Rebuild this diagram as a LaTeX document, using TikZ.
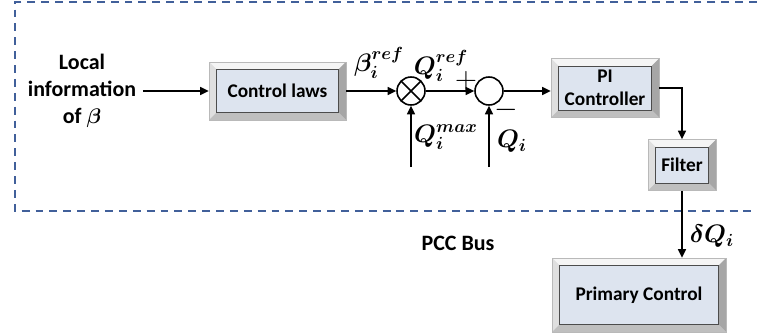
\documentclass[tikz,border=0pt]{standalone}
\usepackage{amsmath}
\usepackage{bm}
\usepackage{fontspec}
\setmainfont{Carlito}
\usetikzlibrary{arrows.meta,calc}

\definecolor{busblue}{HTML}{41609A}
\definecolor{boxblue}{HTML}{DDE4EF}

\begin{document}
\begin{tikzpicture}[x=0.02cm,y=-0.02cm,>={Triangle[length=1.7mm,width=1.6mm]},
    line width=0.9pt,
    bevelbox/.style={draw=gray!55,line width=0.4pt,fill=gray!15,
      font=\fontsize{11}{13}\selectfont\bfseries,align=center,inner sep=0pt,
      path picture={
        \coordinate (sw) at (path picture bounding box.south west);
        \coordinate (ne) at (path picture bounding box.north east);
        \coordinate (nw) at (sw|-ne);
        \coordinate (se) at (ne|-sw);
        % bevel faces: light top/left, dark right/bottom
        \fill[gray!8] (nw) -- (ne) -- ($(ne)+(-1.5mm,-1.5mm)$) -- ($(nw)+(1.5mm,-1.5mm)$) -- cycle;
        \fill[gray!25] (nw) -- ($(nw)+(1.5mm,-1.5mm)$) -- ($(sw)+(1.5mm,1.5mm)$) -- (sw) -- cycle;
        \fill[gray!70] (ne) -- (se) -- ($(se)+(-1.5mm,1.5mm)$) -- ($(ne)+(-1.5mm,-1.5mm)$) -- cycle;
        \fill[gray!50] (sw) -- ($(sw)+(1.5mm,1.5mm)$) -- ($(se)+(-1.5mm,1.5mm)$) -- (se) -- cycle;
        \filldraw[fill=boxblue,draw=gray!60!black,line width=0.5pt]
          ($(sw)+(1.5mm,1.5mm)$) rectangle ($(ne)+(-1.5mm,-1.5mm)$);
      }},
    sumnode/.style={circle,draw,minimum size=0.56cm,inner sep=0pt},
    lbl/.style={font=\fontsize{12.5}{15.5}\selectfont\bfseries,align=center},
    sig/.style={font=\Large,inner sep=0pt}]
  \useasboundingbox (0,0) rectangle (757,335);

  % PCC bus border
  \draw[busblue,line width=1.3pt,dash pattern=on 4.5pt off 3.4pt]
    (757,2) -- (15,2) -- (15,211) -- (757,211);

  % blocks
  \node[lbl] (info) at (82,91) {Local\\information\\of $\bm{\beta}$};
  \node[bevelbox,minimum width=2.74cm,minimum height=1.16cm] (cl) at (277.5,91) {Control laws};
  \node[sumnode,path picture={
      \draw (path picture bounding box.north west) -- (path picture bounding box.south east)
            (path picture bounding box.north east) -- (path picture bounding box.south west);}]
    (mul) at (411,91) {};
  \node[sumnode] (sum) at (489,91) {};
  \node[bevelbox,minimum width=2.16cm,minimum height=1.18cm] (pi) at (605,88) {PI\\Controller};
  \node[bevelbox,minimum width=1.36cm,minimum height=1.02cm] (flt) at (682,165) {Filter};
  \node[bevelbox,minimum width=3.48cm,minimum height=1.48cm] (pc) at (639,295) {Primary Control};
  \coordinate (qmax) at (411,167);
  \coordinate (qmeas) at (489,167);

  % signals
  \draw[->] (info) -- (cl);
  \draw[->] (cl) -- (mul);
  \draw[->] (mul) -- (sum);
  \draw[->] (sum) -- (sum -| pi.west);
  \draw[->] (pi.east) -| (flt.north);
  \draw[->] (flt.south) -- (flt.south |- pc.north);
  \draw[->] (qmax) -- (mul);
  \draw[->] (qmeas) -- (sum);

  % labels
  \node[sig] (lbeta) at (379,63) {$\bm{\beta_i^{ref}}$};
  \node[sig] (lqref) at (441,66) {$\bm{Q_i^{ref}}$};
  \node[sig] (lplus) at (466,81) {\LARGE$+$};
  \node[sig] (lqmax) at (446,137) {$\bm{Q_i^{max}}$};
  \node[sig] (lqi) at (512,141) {$\bm{Q_i}$};
  \node[sig] (lminus) at (506,110) {\LARGE$-$};
  \node[sig] (ldq) at (712,236) {$\bm{\delta Q_i}$};
  \node[lbl] (bus) at (458,243) {PCC Bus};
\end{tikzpicture}
\end{document}
